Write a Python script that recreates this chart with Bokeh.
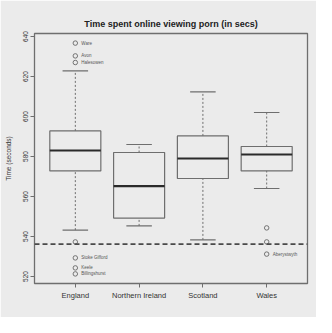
from bokeh.plotting import figure
from bokeh.models import Range1d, FixedTicker, Span, ColumnDataSource
from bokeh.embed import file_html
from bokeh.resources import INLINE
from bokeh.core.properties import value

# ---- data ----
categories = ["England", "Northern Ireland", "Scotland", "Wales"]
lower_whisker = [543.2, 545.3, 538.3, 564.0]
q1 = [572.8, 549.2, 569.0, 572.8]
median = [583.0, 565.2, 579.0, 581.0]
q3 = [592.8, 582.0, 590.3, 585.0]
upper_whisker = [622.8, 586.0, 612.3, 602.0]

outlier_group = [1, 1, 1, 1, 1, 1, 1, 4, 4, 4]
outlier_value = [636.7, 630.3, 627.0, 537.3, 529.3, 524.3, 521.3, 544.3, 537.3, 531.2]
outlier_label = ["Ware", "Avon", "Halesowen", "", "Stoke Gifford", "Keele",
                 "Billingshurst", "", "", "Aberystwyth"]

threshold = 536.2
y_ticks = [520, 540, 560, 580, 600, 620, 640]

positions = [i + 1 for i in range(len(categories))]
box_width = 0.8
cap_width = 0.4

FONT = "Liberation Sans"
LINE = "#6e6e6e"
PANEL = "#ebebeb"

p = figure(width=316, height=317, output_backend="svg", toolbar_location=None,
           x_range=Range1d(0.36, 4.64), y_range=Range1d(516.5, 641.5),
           min_border_left=34, min_border_right=9, min_border_top=33,
           min_border_bottom=34,
           title="Time spent online viewing porn (in secs)")

p.background_fill_color = PANEL
p.border_fill_color = PANEL
p.outline_line_color = LINE
p.outline_line_width = 1.3
p.grid.visible = False

p.title.align = "center"
p.title.text_font = FONT
p.title.text_font_size = "9px"
p.title.text_font_style = "bold"
p.title.text_color = "#222222"
p.title.offset = 0

src = ColumnDataSource(dict(x=positions, lw=lower_whisker, q1=q1, med=median,
                            q3=q3, uw=upper_whisker))

# whiskers (dashed)
p.segment(x0="x", y0="q3", x1="x", y1="uw", source=src, line_color=LINE,
          line_width=1, line_dash="2 2")
p.segment(x0="x", y0="lw", x1="x", y1="q1", source=src, line_color=LINE,
          line_width=1, line_dash="2 2")
# caps
p.segment(x0=[x - cap_width / 2 for x in positions], y0=upper_whisker,
          x1=[x + cap_width / 2 for x in positions], y1=upper_whisker,
          line_color=LINE, line_width=1.1)
p.segment(x0=[x - cap_width / 2 for x in positions], y0=lower_whisker,
          x1=[x + cap_width / 2 for x in positions], y1=lower_whisker,
          line_color=LINE, line_width=1.1)
# boxes
p.quad(left=[x - box_width / 2 for x in positions],
       right=[x + box_width / 2 for x in positions],
       bottom=q1, top=q3, fill_color=None, line_color=LINE, line_width=1.2)
# medians
p.segment(x0=[x - box_width / 2 for x in positions], y0=median,
          x1=[x + box_width / 2 for x in positions], y1=median,
          line_color="#2a2a2a", line_width=2.2)

# outliers
osrc = ColumnDataSource(dict(x=outlier_group, y=outlier_value, t=outlier_label))
p.scatter(x="x", y="y", source=osrc, marker="circle", size=4.5,
          fill_color=None, line_color="#666666", line_width=0.9)
p.text(x="x", y="y", text="t", source=osrc, x_offset=6,
       text_font=value(FONT), text_font_size="4.5px", text_color="#555555",
       text_baseline="middle", text_align="left")

# threshold line
p.add_layout(Span(location=threshold, dimension="width", line_color="#4a4a4a",
                  line_width=1.8, line_dash="5 3"))

# axes
p.xaxis.ticker = FixedTicker(ticks=positions)
p.xaxis.major_label_overrides = {pos: c for pos, c in zip(positions, categories)}
p.yaxis.ticker = FixedTicker(ticks=y_ticks)
for ax in (p.xaxis, p.yaxis):
    ax.axis_line_color = None
    ax.major_tick_in = 0
    ax.major_tick_out = 4
    ax.major_tick_line_color = LINE
    ax.minor_tick_line_color = None
    ax.major_label_text_font = FONT
    ax.major_label_text_color = "#333333"
p.xaxis.major_label_text_font_size = "7.5px"
p.xaxis.major_label_standoff = 3
p.yaxis.major_label_text_font_size = "6.5px"
p.yaxis.major_label_orientation = "vertical"
p.yaxis.major_label_standoff = 3
p.yaxis.axis_label = "Time (seconds)"
p.yaxis.axis_label_text_font = FONT
p.yaxis.axis_label_text_font_size = "6.5px"
p.yaxis.axis_label_text_font_style = "normal"
p.yaxis.axis_label_text_color = "#333333"
p.yaxis.axis_label_standoff = 8

open("out.html", "w").write(file_html(p, INLINE))
